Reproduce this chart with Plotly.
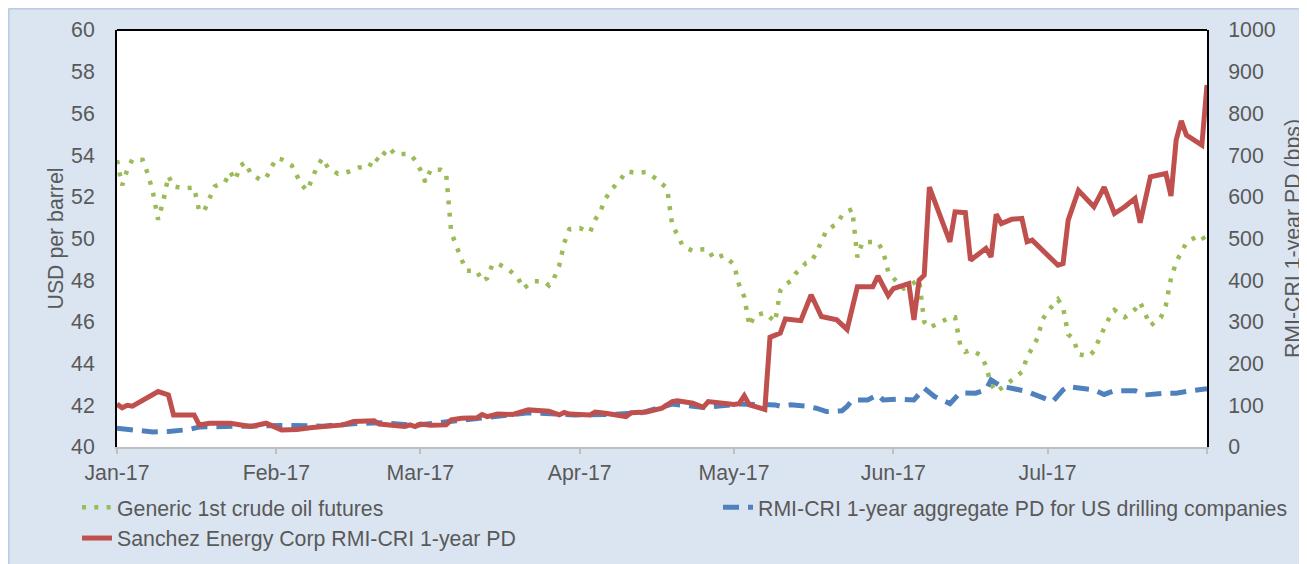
import plotly.graph_objects as go

# ---------------- data ----------------
oil_dates = ["2017-01-01","2017-01-02","2017-01-03","2017-01-04","2017-01-06","2017-01-07","2017-01-08","2017-01-09",
 "2017-01-10","2017-01-11","2017-01-12","2017-01-14","2017-01-16","2017-01-17","2017-01-18","2017-01-19","2017-01-20",
 "2017-01-22","2017-01-23","2017-01-24","2017-01-25","2017-01-26","2017-01-27","2017-01-29","2017-01-30","2017-01-31",
 "2017-02-01","2017-02-02","2017-02-04","2017-02-05","2017-02-06","2017-02-07","2017-02-08","2017-02-09","2017-02-10",
 "2017-02-11","2017-02-13","2017-02-15","2017-02-17","2017-02-19","2017-02-20","2017-02-21","2017-02-22","2017-02-23",
 "2017-02-24","2017-02-27","2017-02-28","2017-03-01","2017-03-02","2017-03-03","2017-03-05","2017-03-06","2017-03-07",
 "2017-03-08","2017-03-09","2017-03-10","2017-03-12","2017-03-13","2017-03-14","2017-03-15","2017-03-16","2017-03-18",
 "2017-03-20","2017-03-21","2017-03-23","2017-03-25","2017-03-26","2017-03-27","2017-03-28","2017-03-29","2017-03-30",
 "2017-04-01","2017-04-03","2017-04-04","2017-04-05","2017-04-06","2017-04-07","2017-04-09","2017-04-10","2017-04-12",
 "2017-04-14","2017-04-16","2017-04-18","2017-04-19","2017-04-20","2017-04-21","2017-04-23","2017-04-25","2017-04-26",
 "2017-04-27","2017-04-29","2017-05-01","2017-05-02","2017-05-03","2017-05-04","2017-05-05","2017-05-07","2017-05-09",
 "2017-05-10","2017-05-11","2017-05-12","2017-05-13","2017-05-15","2017-05-16","2017-05-17","2017-05-18","2017-05-19",
 "2017-05-21","2017-05-22","2017-05-23","2017-05-24","2017-05-25","2017-05-26","2017-05-28","2017-05-29","2017-05-30",
 "2017-05-31","2017-06-01","2017-06-03","2017-06-04","2017-06-06","2017-06-07","2017-06-08","2017-06-10","2017-06-12",
 "2017-06-13","2017-06-14","2017-06-15","2017-06-16","2017-06-18","2017-06-19","2017-06-20","2017-06-21","2017-06-23",
 "2017-06-25","2017-06-26","2017-06-27","2017-06-28","2017-06-29","2017-06-30","2017-07-01","2017-07-03","2017-07-04",
 "2017-07-05","2017-07-06","2017-07-07","2017-07-09","2017-07-10","2017-07-11","2017-07-12","2017-07-13","2017-07-14",
 "2017-07-16","2017-07-18","2017-07-19","2017-07-20","2017-07-21","2017-07-23","2017-07-24","2017-07-25","2017-07-26",
 "2017-07-27","2017-07-28","2017-07-30","2017-07-31","2017-08-01"]
oil_usd = [53.75,52.55,53.3,53.8,53.77,53.1,52.2,50.9,
 51.8,53.0,52.5,52.4,52.45,51.3,51.35,52.0,52.5,
 52.7,53.2,52.8,53.5,53.65,53.1,52.8,52.9,53.4,
 53.85,53.8,53.5,53.0,52.55,52.3,52.9,53.5,53.85,
 53.4,53.1,53.2,53.4,53.4,53.9,53.7,54.1,54.35,
 54.05,54.05,53.75,53.3,52.7,53.3,53.3,53.15,50.3,
 49.6,49.0,48.45,48.45,47.95,48.1,48.75,48.8,48.55,
 48.1,47.6,47.95,47.95,47.75,48.1,48.7,49.8,50.45,
 50.5,50.3,50.9,51.3,51.9,52.3,52.85,53.22,53.15,
 53.19,52.84,52.4,50.6,50.2,49.65,49.4,49.48,49.48,
 49.05,49.2,48.75,47.77,47.2,45.8,46.3,46.44,46.0,
 47.5,47.8,47.95,48.33,48.82,48.89,49.3,49.85,50.4,
 50.7,51.1,51.3,51.4,49.1,49.83,49.83,49.8,49.4,
 48.4,48.1,47.6,47.72,48.04,46.0,45.72,45.96,46.22,
 46.22,44.9,44.56,44.65,44.4,43.9,43.0,42.65,43.0,
 43.4,43.6,44.3,44.8,45.2,46.1,46.5,47.08,46.7,
 45.4,45.2,44.45,44.35,44.6,45.2,45.7,46.2,46.57,
 46.22,46.6,46.94,46.4,45.82,46.2,46.8,48.1,48.86,
 49.35,49.8,50.1,50.15,49.7]

sanchez_dates = ["2017-01-01","2017-01-02","2017-01-03","2017-01-04","2017-01-09","2017-01-11","2017-01-12","2017-01-16",
 "2017-01-17","2017-01-19","2017-01-23","2017-01-25","2017-01-27","2017-01-30","2017-02-02","2017-02-05","2017-02-08",
 "2017-02-14","2017-02-16","2017-02-20","2017-02-21","2017-02-26","2017-02-27","2017-02-28","2017-03-01","2017-03-03",
 "2017-03-06","2017-03-07","2017-03-09","2017-03-12","2017-03-13","2017-03-14","2017-03-16","2017-03-19","2017-03-22",
 "2017-03-26","2017-03-28","2017-03-29","2017-03-30","2017-04-03","2017-04-04","2017-04-06","2017-04-10","2017-04-11",
 "2017-04-14","2017-04-17","2017-04-19","2017-04-20","2017-04-23","2017-04-25","2017-04-26","2017-05-01","2017-05-02",
 "2017-05-03","2017-05-04","2017-05-07","2017-05-08","2017-05-10","2017-05-11","2017-05-14","2017-05-16","2017-05-18",
 "2017-05-21","2017-05-23","2017-05-25","2017-05-28","2017-05-29","2017-05-31","2017-06-01","2017-06-04","2017-06-05",
 "2017-06-06","2017-06-07","2017-06-08","2017-06-10","2017-06-12","2017-06-13","2017-06-15","2017-06-16","2017-06-19",
 "2017-06-20","2017-06-21","2017-06-22","2017-06-24","2017-06-26","2017-06-27","2017-06-28","2017-07-03","2017-07-04",
 "2017-07-05","2017-07-07","2017-07-10","2017-07-12","2017-07-14","2017-07-16","2017-07-18","2017-07-19","2017-07-21",
 "2017-07-24","2017-07-25","2017-07-26","2017-07-27","2017-07-28","2017-07-31","2017-08-01"]
sanchez_bps = [103,94,100,98,133,125,77,77,
 53,57,57,53,49,57,41,42,47,
 53,61,63,55,49,53,49,55,52,
 53,65,69,70,78,73,79,78,89,
 86,77,83,79,77,84,81,73,82,
 84,93,109,111,105,95,109,102,104,
 123,101,90,263,273,307,303,365,313,
 305,282,384,384,410,363,380,392,305,
 400,412,623,560,492,564,562,448,476,
 456,558,536,546,548,492,496,436,440,
 544,615,576,623,560,576,596,538,648,
 656,602,736,782,748,724,868]

drill_dates = ["2017-01-01","2017-01-04","2017-01-08","2017-01-11","2017-01-15","2017-01-17","2017-01-21","2017-02-03",
 "2017-02-10","2017-02-16","2017-02-22","2017-02-28","2017-03-08","2017-03-15","2017-03-22","2017-03-31","2017-04-07",
 "2017-04-13","2017-04-19","2017-04-25","2017-05-02","2017-05-09","2017-05-10","2017-05-12","2017-05-15","2017-05-17",
 "2017-05-19","2017-05-22","2017-05-23","2017-05-24","2017-05-27","2017-05-29","2017-05-30","2017-06-02","2017-06-05",
 "2017-06-07","2017-06-09","2017-06-12","2017-06-14","2017-06-17","2017-06-19","2017-06-20","2017-06-22","2017-06-24",
 "2017-06-27","2017-07-02","2017-07-04","2017-07-05","2017-07-10","2017-07-12","2017-07-14","2017-07-18","2017-07-20",
 "2017-07-24","2017-07-26","2017-07-28","2017-08-01"]
drill_bps = [45,40,36,37,42,48,49,52,
 50,56,58,52,63,72,82,77,78,
 82,103,95,103,101,98,101,98,93,
 85,87,97,113,113,125,113,115,113,
 141,121,104,130,129,137,161,145,141,
 133,109,137,145,137,126,135,135,125,
 129,129,133,140]

tick_dates = ["2017-01-01","2017-02-01","2017-03-01","2017-04-01","2017-05-01","2017-06-01","2017-07-01","2017-08-01"]
tick_labels = ["Jan-17","Feb-17","Mar-17","Apr-17","May-17","Jun-17","Jul-17",""]

name_oil = "Generic 1st crude oil futures"
name_drill = "RMI-CRI 1-year aggregate PD for US drilling companies"
name_sanchez = "Sanchez Energy Corp RMI-CRI 1-year PD"

# ---------------- figure ----------------
FONT = "Liberation Sans, Arial, sans-serif"
TXT = "#595959"
FS = 21.3

fig = go.Figure()
fig.add_trace(go.Scatter(x=oil_dates, y=oil_usd, name=name_oil, mode="lines",
                         line=dict(color="#9bbb59", width=4.5, dash="4px,8.3px"),
                         yaxis="y", legend="legend"))
fig.add_trace(go.Scatter(x=drill_dates, y=drill_bps, name=name_drill, mode="lines",
                         line=dict(color="#4f81bd", width=5, dash="16px,9px"),
                         yaxis="y2", legend="legend2"))
fig.add_trace(go.Scatter(x=sanchez_dates, y=sanchez_bps, name=name_sanchez, mode="lines",
                         line=dict(color="#c0504d", width=5),
                         yaxis="y2", legend="legend"))

W, H = 1299, 556
L, R, T, B = 109, 100, 22, 117
pw, ph = W - L - R, H - T - B

def px_x(p):
    return (p - L) / pw

def px_y(p):
    return (H - B - p) / ph

fig.update_layout(
    width=W, height=H,
    margin=dict(l=L, r=R, t=T, b=B, autoexpand=False),
    paper_bgcolor="#dbe5f1",
    plot_bgcolor="white",
    font=dict(family=FONT, size=FS, color=TXT),
    xaxis=dict(type="date", range=["2017-01-01", "2017-08-01"],
               tickvals=tick_dates, ticktext=tick_labels,
               showline=True, linecolor="#bfbfbf", linewidth=2,
               ticks="outside", ticklen=5, tickcolor="#bfbfbf", tickwidth=1.5,
               showgrid=False, zeroline=False,
               tickfont=dict(size=FS, color=TXT)),
    yaxis=dict(range=[40, 60], dtick=2, tick0=40,
               showline=True, linecolor="black", linewidth=2,
               showgrid=False, zeroline=False, ticks="",
               ticklabelstandoff=16,
               title=dict(text="USD per barrel", font=dict(size=FS, color=TXT), standoff=2),
               tickfont=dict(size=FS, color=TXT)),
    yaxis2=dict(range=[0, 1000], dtick=100, tick0=0,
                overlaying="y", side="right",
                showline=True, linecolor="black", linewidth=2,
                showgrid=False, zeroline=False, ticks="",
                ticklabelstandoff=15,
                title=dict(text="RMI-CRI 1-year PD (bps)", font=dict(size=FS, color=TXT), standoff=10),
                tickfont=dict(size=FS, color=TXT)),
    legend=dict(orientation="v", x=px_x(69), y=px_y(479), xanchor="left", yanchor="top",
                bgcolor="rgba(0,0,0,0)", font=dict(size=FS, color=TXT), tracegroupgap=0),
    legend2=dict(orientation="v", x=px_x(710), y=px_y(479), xanchor="left", yanchor="top",
                 bgcolor="rgba(0,0,0,0)", font=dict(size=FS, color=TXT)),
    showlegend=True,
    shapes=[
        # chart frame border (top and left edges)
        dict(type="line", xref="paper", yref="paper", x0=px_x(0.75), x1=px_x(W + 10), y0=px_y(0.75), y1=px_y(0.75),
             line=dict(color="#b8cce4", width=1.5), layer="below"),
        dict(type="line", xref="paper", yref="paper", x0=px_x(0.75), x1=px_x(0.75), y0=px_y(0.75), y1=px_y(H + 10),
             line=dict(color="#b8cce4", width=1.5), layer="below"),
        # plot area top border
        dict(type="line", xref="paper", yref="paper", x0=0, x1=1, y0=1, y1=1,
             line=dict(color="black", width=2), layer="above"),
    ],
)

fig.write_html("out.html")
